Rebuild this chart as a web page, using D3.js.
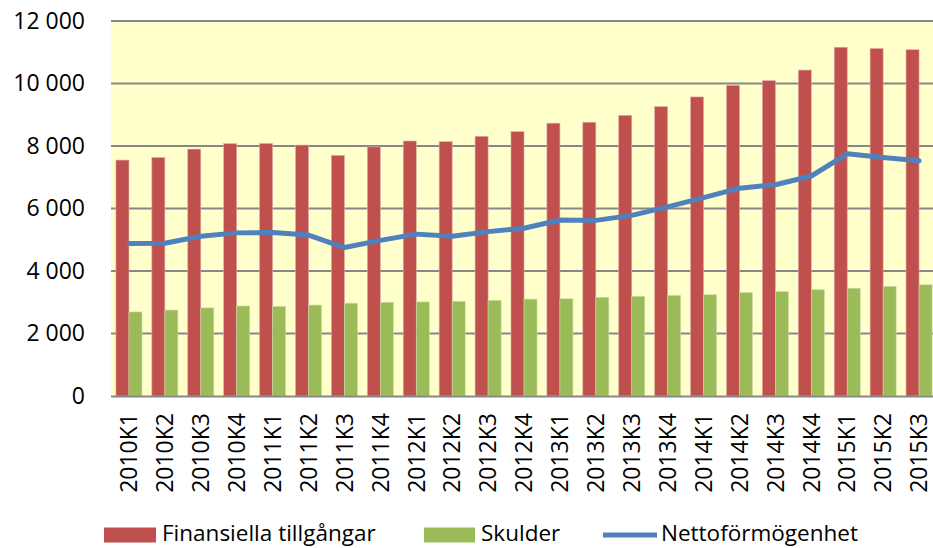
<!DOCTYPE html>
<html>
<head>
<meta charset="utf-8">
<script src="https://cdn.jsdelivr.net/npm/d3@7"></script>
<style>
  body { margin: 0; background: #fff; }
  svg { display: block; font-family: "Open Sans", "Noto Sans", sans-serif; }
</style>
</head>
<body>
<div id="chart"></div>
<script>
// quarters on the x axis
var quarters = ["2010K1", "2010K2", "2010K3", "2010K4", "2011K1", "2011K2", "2011K3", "2011K4",
  "2012K1", "2012K2", "2012K3", "2012K4", "2013K1", "2013K2", "2013K3", "2013K4",
  "2014K1", "2014K2", "2014K3", "2014K4", "2015K1", "2015K2", "2015K3"];

// Finansiella tillgångar
var assets = [7550, 7630, 7900, 8075, 8080, 8030, 7700, 7970, 8160, 8140, 8310, 8460,
  8730, 8760, 8980, 9260, 9570, 9940, 10090, 10430, 11160, 11120, 11080];

// Skulder
var debts = [2690, 2750, 2820, 2880, 2870, 2910, 2970, 3000, 3010, 3030, 3060, 3100,
  3110, 3160, 3190, 3220, 3240, 3310, 3340, 3400, 3450, 3510, 3560];

// Nettoförmögenhet
var net = [4880, 4890, 5110, 5220, 5230, 5150, 4750, 4980, 5180, 5110, 5260, 5370,
  5630, 5620, 5780, 6050, 6350, 6650, 6760, 7040, 7750, 7630, 7530];

var yTicks = [0, 2000, 4000, 6000, 8000, 10000, 12000];

var Chart = {
  settings: {
    width: 933,
    height: 548,
    left: 111,
    right: 937,
    top: 21,
    bottom: 396,
    red: "#C0504D",
    green: "#9BBB59",
    blue: "#4F81BD",
    grid: "#878787",
    bg: "#FFFFCC"
  },

  draw: function() {
    var s = Chart.settings;
    var svg = d3.select("#chart").append("svg")
      .attr("width", s.width)
      .attr("height", s.height);

    var x = d3.scaleBand().domain(quarters).range([s.left, s.right]);
    var xs = d3.scaleBand().domain(["a", "d"]).range([0, x.bandwidth()]).paddingOuter(0.38);
    var y = d3.scaleLinear().domain([0, 12000]).range([s.bottom, s.top]);

    // plot background
    svg.append("rect")
      .attr("x", s.left).attr("y", s.top)
      .attr("width", s.right - s.left).attr("height", s.bottom - s.top)
      .attr("fill", s.bg);

    // gridlines
    svg.append("g").selectAll("line")
      .data(yTicks.filter(function(d) { return d > 0; }))
      .enter().append("line")
      .attr("x1", s.left).attr("x2", s.right)
      .attr("y1", function(d) { return y(d); })
      .attr("y2", function(d) { return y(d); })
      .attr("stroke", s.grid).attr("stroke-width", 2);

    // y axis labels
    var fmt = function(d) { return d3.format(",")(d).replace(/,/g, " "); };
    var yAxis = svg.append("g")
      .attr("transform", "translate(" + s.left + ",0)")
      .call(d3.axisLeft(y).tickValues(yTicks).tickSize(0).tickPadding(26).tickFormat(fmt));
    yAxis.select(".domain").remove();
    yAxis.selectAll("text").attr("font-size", 23).attr("fill", "#000")
      .style("font-family", "'Open Sans', sans-serif");

    // bars
    var groups = svg.append("g").selectAll("g")
      .data(quarters)
      .enter().append("g")
      .attr("transform", function(d) { return "translate(" + x(d) + ",0)"; });

    groups.append("rect")
      .attr("x", xs("a")).attr("width", xs.bandwidth())
      .attr("y", function(d, i) { return y(assets[i]); })
      .attr("height", function(d, i) { return s.bottom - y(assets[i]); })
      .attr("fill", s.red)
      .attr("stroke", "#E3A9A7").attr("stroke-width", 0.6);

    groups.append("rect")
      .attr("x", xs("d")).attr("width", xs.bandwidth())
      .attr("y", function(d, i) { return y(debts[i]); })
      .attr("height", function(d, i) { return s.bottom - y(debts[i]); })
      .attr("fill", s.green)
      .attr("stroke", "#CBDCA8").attr("stroke-width", 0.6);

    // x axis
    svg.append("line")
      .attr("x1", s.left).attr("x2", s.right)
      .attr("y1", s.bottom + 0.5).attr("y2", s.bottom + 0.5)
      .attr("stroke", s.grid).attr("stroke-width", 2);

    var xAxis = svg.append("g")
      .attr("transform", "translate(0," + s.bottom + ")")
      .call(d3.axisBottom(x).tickSize(0).tickPadding(0));
    xAxis.select(".domain").remove();
    xAxis.selectAll("text")
      .attr("font-size", 23).attr("fill", "#000")
      .style("font-family", "'Open Sans', sans-serif")
      .attr("text-anchor", "end")
      .attr("transform", "rotate(-90)")
      .attr("x", -17).attr("y", 0).attr("dy", "0.36em");

    // net line
    var line = d3.line()
      .x(function(d, i) { return x(quarters[i]) + x.bandwidth() / 2; })
      .y(function(d) { return y(d); });
    svg.append("path")
      .datum(net)
      .attr("d", line)
      .attr("fill", "none")
      .attr("stroke", s.blue)
      .attr("stroke-width", 5)
      .attr("stroke-linejoin", "round")
      .attr("stroke-linecap", "round");

    // legend
    var leg = svg.append("g").attr("font-size", 22.5).attr("fill", "#000");
    var ly = 535, lb = 541;
    leg.append("rect").attr("x", 104).attr("y", ly - 7.5).attr("width", 52).attr("height", 15).attr("fill", s.red);
    leg.append("text").attr("x", 162).attr("y", lb).text("Finansiella tillgångar");
    leg.append("rect").attr("x", 424).attr("y", ly - 7.5).attr("width", 51).attr("height", 15).attr("fill", s.green);
    leg.append("text").attr("x", 481).attr("y", lb).text("Skulder");
    leg.append("line").attr("x1", 603).attr("x2", 657).attr("y1", ly).attr("y2", ly)
      .attr("stroke", s.blue).attr("stroke-width", 5);
    leg.append("text").attr("x", 661).attr("y", lb).text("Nettoförmögenhet");
  }
};

Chart.draw();
</script>
</body>
</html>
